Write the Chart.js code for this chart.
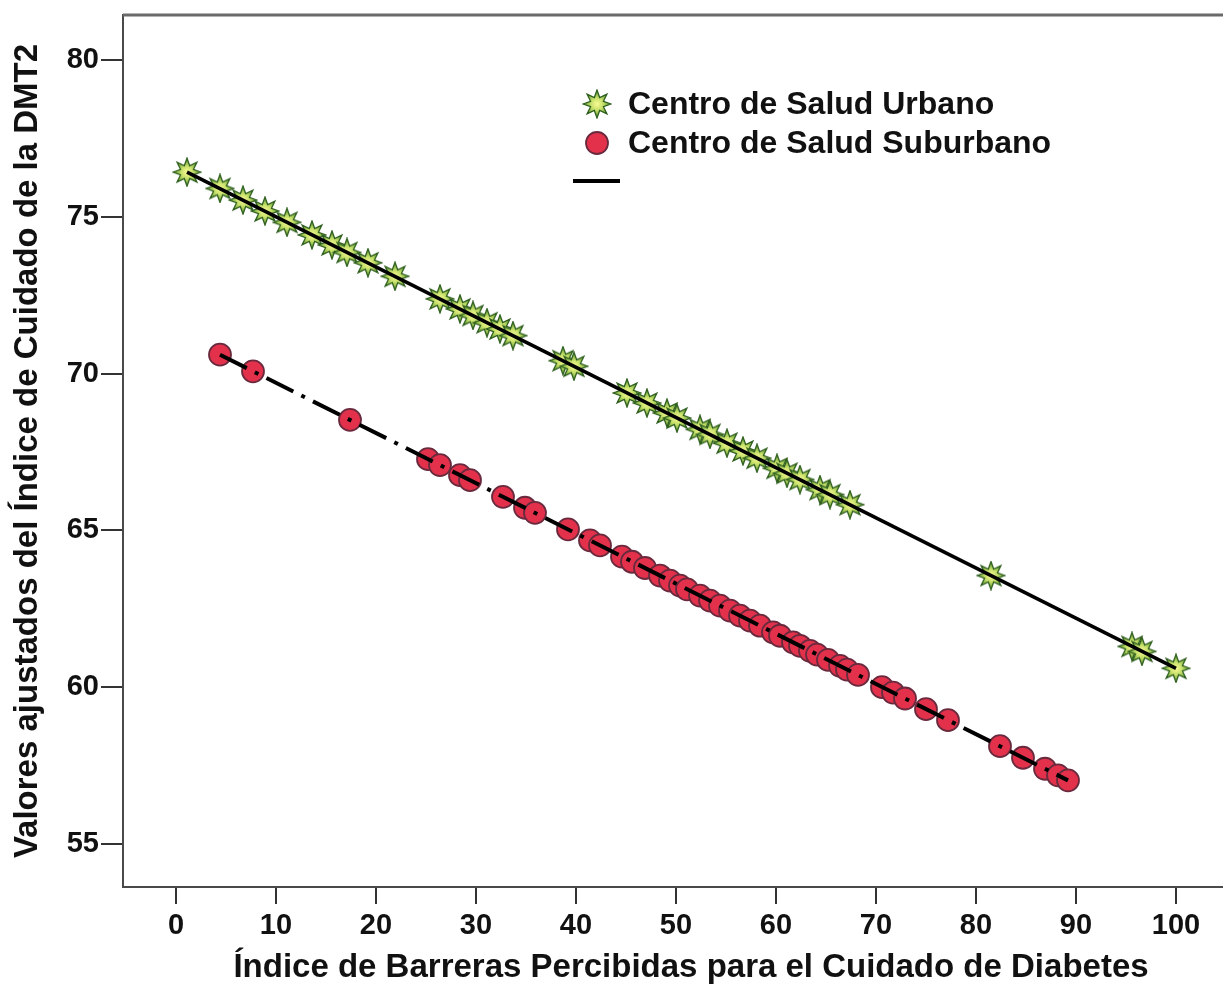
<!DOCTYPE html>
<html>
<head>
<meta charset="utf-8">
<script src="https://cdn.jsdelivr.net/npm/chart.js@4.4.0/dist/chart.umd.min.js"></script>
<style>
  html, body { margin: 0; background: #fff; overflow: hidden; }
  /* el área de trazado sigue más allá del borde derecho (recortada en el original) */
  #wrap { width: 1259px; height: 991px; position: relative; }
</style>
</head>
<body>
<div id="wrap"><canvas id="grafico"></canvas></div>
<script>
// --- datos ---
const xTicks = [0, 10, 20, 30, 40, 50, 60, 70, 80, 90, 100];
const yTicks = [55, 60, 65, 70, 75, 80];

const seriesNames = ['Centro de Salud Urbano', 'Centro de Salud Suburbano'];

// Centro de Salud Urbano (valores ajustados)
const urbanoX = [1.1, 4.4, 6.7, 8.9, 11.1, 13.6, 15.6, 17.1, 19.2, 21.9,
                 26.4, 28.4, 29.7, 31.1, 32.4, 33.7, 38.7, 39.8,
                 45.1, 47.1, 49.1, 50.1, 52.4, 53.4, 55.1, 56.7, 58.1, 60.1,
                 61.1, 62.4, 64.4, 65.4, 67.4, 81.5, 95.6, 96.6, 100.0];
const urbanoY = [76.42, 75.90, 75.53, 75.18, 74.82, 74.42, 74.10, 73.86, 73.53, 73.10,
                 72.38, 72.06, 71.85, 71.62, 71.42, 71.21, 70.41, 70.23,
                 69.38, 69.06, 68.74, 68.58, 68.22, 68.06, 67.78, 67.53, 67.30, 66.98,
                 66.82, 66.62, 66.30, 66.14, 65.82, 63.56, 61.30, 61.14, 60.60];

// Centro de Salud Suburbano (valores ajustados)
const suburbanoX = [4.4, 7.7, 17.4, 25.2, 26.4, 28.4, 29.4, 32.7, 34.9, 35.9,
                    39.2, 41.4, 42.4, 44.6, 45.6, 46.9, 48.4, 49.4, 50.4, 51.1,
                    52.4, 53.4, 54.4, 55.4, 56.4, 57.4, 58.4, 59.7, 60.4, 61.7,
                    62.4, 63.4, 64.1, 65.2, 66.4, 67.1, 68.2, 70.6, 71.7, 72.9,
                    75.0, 77.2, 82.4, 84.7, 86.9, 88.2, 89.2];
const suburbanoY = [70.60, 70.07, 68.52, 67.27, 67.08, 66.76, 66.60, 66.07, 65.72, 65.56,
                    65.03, 64.68, 64.52, 64.16, 64.00, 63.80, 63.56, 63.40, 63.24, 63.12,
                    62.92, 62.76, 62.60, 62.44, 62.28, 62.12, 61.96, 61.75, 61.64, 61.43,
                    61.32, 61.16, 61.04, 60.87, 60.68, 60.56, 60.39, 60.00, 59.83, 59.64,
                    59.30, 58.95, 58.12, 57.75, 57.40, 57.19, 57.03];

const toPoints = (xs, ys) => xs.map((x, i) => ({ x, y: ys[i] }));
const endPoints = (xs, ys) => [
    { x: xs[0], y: ys[0] },
    { x: xs[xs.length - 1], y: ys[ys.length - 1] }
];

const FONT = "'Liberation Sans', Arial, sans-serif";
const textColor = '#111';

// estrella de 8 puntas para el marcador urbano
function makeStar(size) {
    const c = document.createElement('canvas');
    c.width = size; c.height = size;
    const g = c.getContext('2d');
    const cx = size / 2, cy = size / 2;
    const rOut = size / 2 - 1, rIn = rOut * 0.5, n = 8;
    g.beginPath();
    for (let i = 0; i < n * 2; i++) {
        const r = i % 2 === 0 ? rOut : rIn;
        const a = -Math.PI / 2 + i * Math.PI / n;
        const px = cx + r * Math.cos(a), py = cy + r * Math.sin(a);
        i === 0 ? g.moveTo(px, py) : g.lineTo(px, py);
    }
    g.closePath();
    const grad = g.createRadialGradient(cx, cy, 1, cx, cy, rOut);
    grad.addColorStop(0, '#f2f78e');
    grad.addColorStop(0.4, '#c6e06a');
    grad.addColorStop(1, '#4c8a2c');
    g.fillStyle = grad;
    g.fill();
    g.lineWidth = 1.3;
    g.strokeStyle = '#30601f';
    g.stroke();
    return c;
}
const starImg = makeStar(30);

// leyenda dibujada dentro del área del gráfico (como en SPSS)
const legendPlugin = {
    id: 'leyendaSpss',
    afterDraw(chart) {
        const ctx = chart.ctx;
        const ds = chart.data.datasets;
        ctx.save();
        ctx.drawImage(starImg, 597 - 15, 104 - 15);
        ctx.beginPath();
        ctx.arc(597, 143, 11, 0, Math.PI * 2);
        ctx.fillStyle = ds[1].backgroundColor;
        ctx.fill();
        ctx.lineWidth = ds[1].borderWidth;
        ctx.strokeStyle = ds[1].borderColor;
        ctx.stroke();
        ctx.beginPath();
        ctx.moveTo(573, 181); ctx.lineTo(620, 181);
        ctx.lineWidth = 4; ctx.strokeStyle = '#000';
        ctx.stroke();
        ctx.font = `bold 32px ${FONT}`;
        ctx.fillStyle = textColor;
        ctx.textBaseline = 'middle';
        ctx.fillText(ds[0].label, 628, 105);
        ctx.fillText(ds[1].label, 628, 144);
        ctx.restore();
    }
};

// marco superior del área
const framePlugin = {
    id: 'marco',
    afterDraw(chart) {
        const { ctx, chartArea: a } = chart;
        ctx.save();
        ctx.strokeStyle = '#6a6a6a';
        ctx.lineWidth = 3;
        ctx.beginPath();
        ctx.moveTo(a.left, a.top); ctx.lineTo(a.right, a.top);
        ctx.stroke();
        ctx.restore();
    }
};

new Chart(document.getElementById('grafico'), {
    type: 'scatter',
    data: {
        datasets: [
            {
                label: seriesNames[0],
                data: toPoints(urbanoX, urbanoY),
                pointStyle: starImg,
                pointRadius: 15,
                order: 3
            },
            {
                label: seriesNames[1],
                data: toPoints(suburbanoX, suburbanoY),
                pointStyle: 'circle',
                pointRadius: 11,
                backgroundColor: '#e3314c',
                borderColor: '#6a2a3e',
                borderWidth: 1.8,
                order: 2
            },
            {
                label: 'Ajuste urbano',
                data: endPoints(urbanoX, urbanoY),
                showLine: true,
                borderColor: '#000',
                borderWidth: 3.5,
                pointRadius: 0,
                order: 1
            },
            {
                label: 'Ajuste suburbano',
                data: endPoints(suburbanoX, suburbanoY),
                showLine: true,
                borderColor: '#000',
                borderWidth: 4,
                borderDash: [30, 9, 4, 9],
                pointRadius: 0,
                order: 1
            }
        ]
    },
    options: {
        responsive: true,
        maintainAspectRatio: false,
        animation: false,
        layout: { autoPadding: false, padding: { top: 15, right: 0, left: 0, bottom: 0 } },
        plugins: {
            legend: { display: false },
            tooltip: { enabled: false }
        },
        scales: {
            x: {
                type: 'linear',
                min: -5.3, max: 108.3,
                afterBuildTicks: axis => { axis.ticks = xTicks.map(v => ({ value: v })); },
                afterFit: axis => { axis.height = 104; axis.paddingLeft = 0; axis.paddingRight = 0; },
                border: { display: true, color: '#4a4a4a', width: 2 },
                grid: { drawOnChartArea: false, drawTicks: true, tickLength: 17, color: '#333', lineWidth: 2 },
                ticks: { color: textColor, font: { family: FONT, size: 29, weight: 'bold' }, padding: 5, maxRotation: 0 },
                title: {
                    display: true,
                    text: 'Índice de Barreras Percibidas para el Cuidado de Diabetes',
                    color: textColor,
                    font: { family: FONT, size: 33, weight: 'bold' },
                    padding: { top: 0, bottom: 3 }
                }
            },
            y: {
                type: 'linear',
                min: 53.63, max: 81.43,
                afterBuildTicks: axis => { axis.ticks = yTicks.map(v => ({ value: v })); },
                afterFit: axis => { axis.width = 123; axis.paddingTop = 0; axis.paddingBottom = 0; },
                border: { display: true, color: '#4a4a4a', width: 2 },
                grid: { drawOnChartArea: false, drawTicks: true, tickLength: 22, color: '#333', lineWidth: 2 },
                ticks: { color: textColor, font: { family: FONT, size: 29, weight: 'bold' }, padding: 2 },
                title: {
                    display: true,
                    text: 'Valores ajustados del Índice de Cuidado de la DMT2',
                    color: textColor,
                    font: { family: FONT, size: 33, weight: 'bold' },
                    padding: { top: 8, bottom: 0 }
                }
            }
        }
    },
    plugins: [legendPlugin, framePlugin]
});
</script>
</body>
</html>
